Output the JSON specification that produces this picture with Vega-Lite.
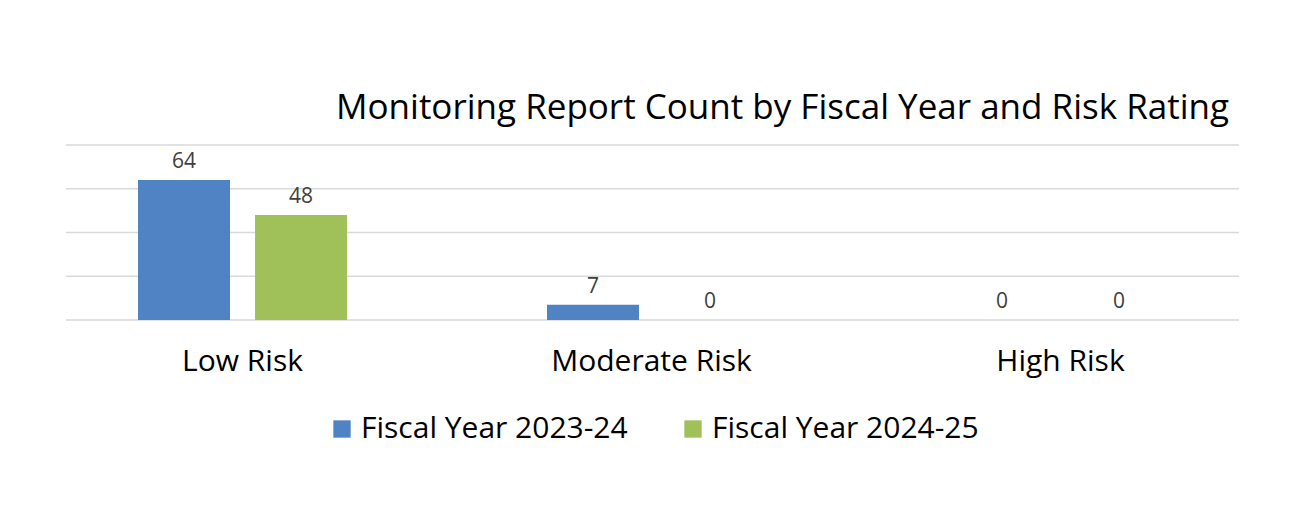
{
  "$schema": "https://vega.github.io/schema/vega-lite/v6.json",
  "width": 1173,
  "height": 175,
  "padding": {"left": 65, "top": 91, "right": 56, "bottom": 10},
  "background": "white",
  "title": {
    "text": "Monitoring Report Count by Fiscal Year and Risk Rating",
    "anchor": "end",
    "frame": "group",
    "dx": -10,
    "font": "Open Sans",
    "fontSize": 35,
    "fontWeight": "normal",
    "color": "#000000",
    "offset": 18
  },
  "datasets": {
    "counts": [
      {"risk": "Low Risk", "year": "Fiscal Year 2023-24", "count": 64},
      {"risk": "Low Risk", "year": "Fiscal Year 2024-25", "count": 48},
      {"risk": "Moderate Risk", "year": "Fiscal Year 2023-24", "count": 7},
      {"risk": "Moderate Risk", "year": "Fiscal Year 2024-25", "count": 0},
      {"risk": "High Risk", "year": "Fiscal Year 2023-24", "count": 0},
      {"risk": "High Risk", "year": "Fiscal Year 2024-25", "count": 0}
    ],
    "grid": [
      {"level": 0}, {"level": 20}, {"level": 40}, {"level": 60}, {"level": 80}
    ]
  },
  "layer": [
    {
      "data": {"name": "grid"},
      "mark": {"type": "rule", "color": "#d9d9d9", "strokeWidth": 1.5},
      "encoding": {
        "y": {"field": "level", "type": "quantitative", "scale": {"domain": [0, 80], "nice": false}, "axis": null}
      }
    },
    {
      "data": {"name": "counts"},
      "encoding": {
        "x": {
          "field": "risk",
          "type": "nominal",
          "sort": ["Low Risk", "Moderate Risk", "High Risk"],
          "scale": {"range": [-29, 1200], "paddingInner": 0.489, "paddingOuter": 0.247},
          "axis": {
            "title": null,
            "domain": false,
            "ticks": false,
            "grid": false,
            "labelAngle": 0,
            "labelPadding": 26,
            "labelLimit": 500,
            "labelFont": "Open Sans",
            "labelFontSize": 30,
            "labelColor": "#000000"
          }
        },
        "xOffset": {
          "field": "year",
          "type": "nominal",
          "scale": {"paddingInner": 0.214, "paddingOuter": 0}
        },
        "y": {
          "field": "count",
          "type": "quantitative",
          "scale": {"domain": [0, 80], "nice": false},
          "axis": null
        }
      },
      "layer": [
        {
          "mark": {"type": "bar"},
          "encoding": {
            "color": {
              "field": "year",
              "type": "nominal",
              "scale": {"range": ["#4f83c3", "#a0c05a"]},
              "legend": {
                "title": null,
                "orient": "bottom",
                "direction": "horizontal",
                "symbolType": "square",
                "symbolSize": 300,
                "symbolStrokeWidth": 0,
                "labelFont": "Open Sans",
                "labelFontSize": 30,
                "labelColor": "#000000",
                "labelLimit": 500,
                "columnPadding": 50,
                "offset": 38,
                "labelOffset": 4
              }
            }
          }
        },
        {
          "mark": {
            "type": "text",
            "dy": -12,
            "baseline": "alphabetic",
            "font": "Open Sans",
            "fontSize": 21,
            "color": "#404040"
          },
          "encoding": {
            "text": {"field": "count", "type": "quantitative"}
          }
        }
      ]
    }
  ],
  "config": {
    "view": {"stroke": null},
    "legend": {"layout": {"bottom": {"anchor": "middle"}}}
  }
}
